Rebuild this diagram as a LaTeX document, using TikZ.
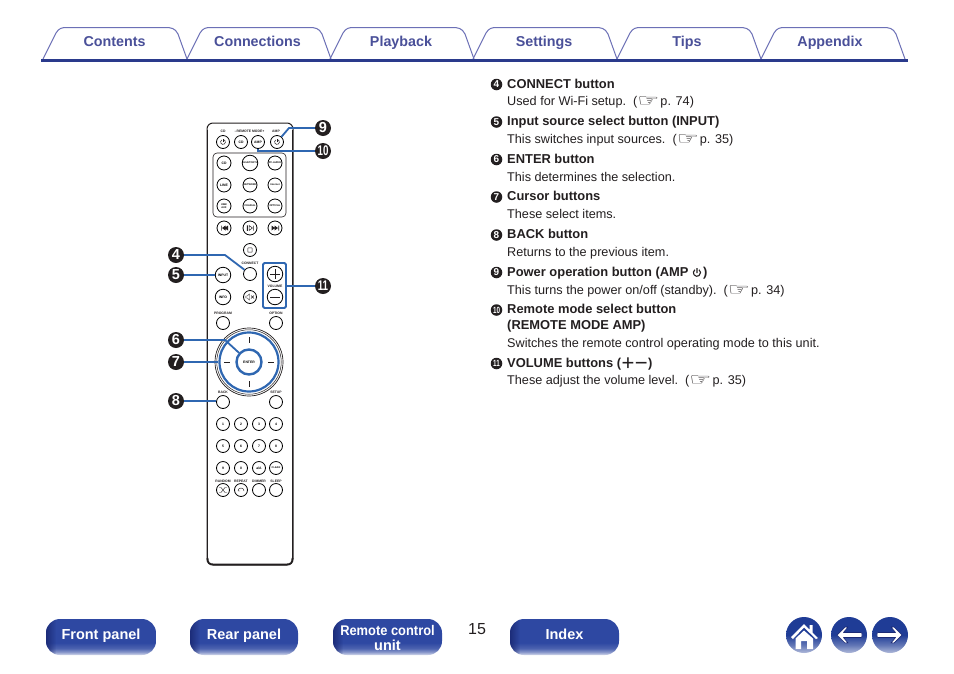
\documentclass[tikz,border=0pt]{standalone}
\usepackage{fontspec}
\usepackage{graphicx}
\setmainfont{Liberation Sans}
\newfontfamily\symf{DejaVu Sans}
\usetikzlibrary{fadings,arrows.meta}
\definecolor{ink}{HTML}{231F20}
\definecolor{navy}{HTML}{2A3A8C}
\definecolor{tabedge}{HTML}{6C70B6}
\definecolor{tabtext}{HTML}{4A5099}
\definecolor{call}{HTML}{2F67B1}
\definecolor{navdark}{HTML}{1B2A75}
\definecolor{navmain}{HTML}{2E48A2}
\definecolor{roundmain}{HTML}{1F3C96}
\pgfdeclareverticalshading{navshade}{100bp}{color(0bp)=(white); color(25bp)=(navmain!20!white); color(29bp)=(navmain!55!white); color(34bp)=(navmain!85!white); color(42bp)=(navmain); color(75bp)=(navmain); color(100bp)=(navmain)}
\pgfdeclareverticalshading{roundshade}{100bp}{color(0bp)=(white); color(25bp)=(roundmain!35!white); color(36bp)=(roundmain!70!white); color(50bp)=(roundmain); color(75bp)=(roundmain); color(100bp)=(roundmain)}
\newcommand\tf{\fontsize{3.4}{3.8}\selectfont\bfseries}
\newcommand\smallf{\fontsize{2.5}{3}\selectfont}
\newcommand\hand{{\symf\fontsize{17}{17}\selectfont\raisebox{-1.4pt}{\scalebox{1.45}[1]{☞}}}\kern-2.5pt}
\tikzset{
  tabline/.style={draw=tabedge,line width=1pt,line join=round},
  tabtxt/.style={text=tabtext,font=\fontsize{14.3}{14}\selectfont\bfseries,anchor=base,inner sep=0pt},
  hd/.style={anchor=base west,inner sep=0pt,text=ink,font=\fontsize{12.9}{14}\selectfont\bfseries},
  bd/.style={anchor=base west,inner sep=0pt,text=ink,font=\fontsize{12.66}{14}\selectfont},
  bul/.style={circle,fill=ink,text=white,inner sep=0pt,minimum size=11.5pt,font=\fontsize{10}{10}\selectfont\bfseries},
  callnum/.style={circle,fill=ink,text=white,inner sep=0pt,minimum size=16pt,font=\fontsize{14.5}{14}\selectfont\bfseries},
  rb/.style={circle,draw=black,line width=.8pt,fill=white,inner sep=0pt,minimum size=13pt,font=\tf},
  rbl/.style={rb,minimum size=15.5pt},
  rlabel/.style={inner sep=0pt,font=\tf,text=ink},
  callout/.style={draw=call,line width=1.8pt},
  navtxt/.style={text=white,font=\fontsize{14.5}{14.5}\selectfont\bfseries,align=center,inner sep=0pt,anchor=base},
}
\newcommand\navbtn[5]{%
  \shade[shading=navshade,rounded corners=14pt] (#1,619) rectangle (#2,655);
  \begin{scope}
    \clip[rounded corners=14pt] (#1,619) rectangle (#2,655);
    \fill[navdark,path fading=east,opacity=.9] (#1,615) rectangle (#1+10,659);
  \end{scope}
  \node[navtxt] (#3) at ({(#1+#2)/2},#4) {#5};
}
\newcommand\tabshape[1]{%
  \draw[tabline,shift={(#1,0)}] (0,59) -- (13,33) .. controls (16,28) and (19,27.5) .. (24,27.5) -- (122,27.5) .. controls (128,27.5) and (132,28) .. (135,34) -- (144,59);
}
\begin{document}
\begin{tikzpicture}[x=1pt,y=-1pt]
\useasboundingbox (0,0) rectangle (954,673);
\fill[white] (0,0) rectangle (954,673);
% tabs
\tabshape{43}\tabshape{187}\tabshape{330}\tabshape{473}\tabshape{617}\tabshape{761}
\draw[navy,line width=2.8pt] (41,60.5) -- (908,60.5);
\node[tabtxt] (t1) at (114.5,46) {Contents};
\node[tabtxt] (t2) at (257.5,46) {Connections};
\node[tabtxt] (t3) at (401,46) {Playback};
\node[tabtxt] (t4) at (544,46) {Settings};
\node[tabtxt] (t5) at (687,46) {Tips};
\node[tabtxt] (t6) at (830,46) {Appendix};
% remote body
\fill[white,draw=ink,line width=1pt,rounded corners=6pt] (207,123) rectangle (293,565);
\draw[ink,line width=1.8pt] (207.5,130) -- (207.5,558) (292.5,130) -- (292.5,558);
\draw[ink,line width=1.8pt] (207.5,558) .. controls (207.5,563) and (209,564.5) .. (214,564.5) -- (286,564.5) .. controls (291,564.5) and (292.5,563) .. (292.5,558);
\draw[ink,line width=.6pt,rounded corners=4pt] (213,153) rectangle (286,217);
% top row
\node[rlabel] (lcd) at (223,131.5) {CD};
\node[rlabel] (lrm) at (249.5,131.5) {–REMOTE MODE+};
\node[rlabel] (lamp) at (276,131.5) {AMP};
\node[rb] (p1) at (223,142) {};
\node[rb] (mcd) at (241,142) {CD};
\node[rb] (amp) at (258,142) {AMP};
\node[rb] (p2) at (277,142) {};
\foreach \n in {p1,p2}{
  \draw[ink,line width=.5pt] ([shift={(-1.2,-2.08)}]\n.center) arc[start angle=120,end angle=420,radius=2.4pt];
  \draw[ink,line width=.5pt] ([yshift=3pt]\n.center) -- (\n.center);
}
% source grid
\node[rb,minimum size=14pt] (g1) at (224,163) {CD};
\node[rb,minimum size=14pt] (g2) at (250,163) {\smallf BLUETOOTH};
\node[rb,minimum size=14pt] (g3) at (275,163) {\smallf PC-AUDIO};
\node[rb,minimum size=14pt] (g4) at (224,185) {LINE};
\node[rb,minimum size=14pt] (g5) at (250,185) {\smallf NETWORK};
\node[rb,minimum size=14pt] (g6) at (275,185) {\smallf Internet};
\node[rb,minimum size=14pt,align=center] (g7) at (224,206) {\smallf USB/\\[-.5pt]\smallf AUX};
\node[rb,minimum size=14pt] (g8) at (250,206) {\smallf COAXIAL};
\node[rb,minimum size=14pt] (g9) at (275,206) {\smallf OPTICAL};
% transport
\node[rb,minimum size=14pt] (prev) at (224,228) {};
\node[rb,minimum size=14pt] (play) at (250,228) {};
\node[rb,minimum size=14pt] (next) at (275,228) {};
\node[rb] (stop) at (250,250) {};
\fill[ink] (221,225.5) rectangle (221.7,230.5) (225.5,225.5) -- (222,228) -- (225.5,230.5) -- cycle (228,225.5) -- (224.5,228) -- (228,230.5) -- cycle;
\draw[ink,line width=.5pt] (247,225.5) rectangle (247.6,230.5) (249,225.5) -- (252.5,228) -- (249,230.5) -- cycle (253.5,225.5) -- (253.5,230.5);
\fill[ink] (279,225.5) rectangle (278.3,230.5) (271.5,225.5) -- (275,228) -- (271.5,230.5) -- cycle (274.5,225.5) -- (278,228) -- (274.5,230.5) -- cycle;
\draw[ink,line width=.5pt,rounded corners=.5pt] (247.8,247.8) rectangle (252.2,252.2);
% middle
\node[rlabel] (lconn) at (250,263.5) {CONNECT};
\node[rb] (connect) at (250,274) {};
\node[rbl] (input) at (223,275) {INPUT};
\node[rbl] (info) at (223,297) {INFO};
\node[rb] (mute) at (250,297) {};
\draw[ink,line width=.4pt] (245.8,296) -- (247.3,296) -- (249.5,294) -- (249.5,300) -- (247.3,298) -- (245.8,298) -- cycle (251,295.5) -- (254,298.5) (254,295.5) -- (251,298.5);
\node[rbl] (volup) at (275,274) {};
\node[rbl] (voldn) at (275,297) {};
\draw[ink,line width=.6pt] (270,274) -- (280,274) (275,269) -- (275,279) (270,297) -- (280,297);
\node[rlabel] (lvol) at (275,286) {VOLUME};
\node[draw=call,line width=1.8pt,rounded corners=1.5pt,inner sep=0pt,minimum width=23pt,minimum height=45pt] (volbox) at (274.5,285.5) {};
\node[rlabel] (lprog) at (223,313.5) {PROGRAM};
\node[rlabel] (lopt) at (276,313.5) {OPTION};
\node[rb] (program) at (223,323) {};
\node[rb] (option) at (276,323) {};
% dial
\node[circle,draw=ink,line width=.7pt,inner sep=0pt,minimum size=68pt] (dialo) at (249,362) {};
\node[circle,draw=ink,line width=.5pt,inner sep=0pt,minimum size=64.5pt] (dialm) at (249,362) {};
\node[circle,draw=call,line width=2.2pt,inner sep=0pt,minimum size=59pt] (dialring) at (249,362) {};
\draw[ink,line width=.5pt] (249,337) -- (249,343) (249,381) -- (249,387) (224,362) -- (230,362) (268,362) -- (274,362);
\node[circle,draw=call,line width=2.4pt,fill=white,inner sep=0pt,minimum size=25pt,font=\tf] (enter) at (249,362) {ENTER};
\node[rlabel] (lback) at (223,392.5) {BACK};
\node[rlabel] (lsetup) at (276,392.5) {SETUP};
\node[rb] (back) at (223,402) {};
\node[rb] (setup) at (276,402) {};
% numbers
\node[rb] (n1) at (223,424) {1};
\node[rb] (n2) at (241,424) {2};
\node[rb] (n3) at (259,424) {3};
\node[rb] (n4) at (276,424) {4};
\node[rb] (n5) at (223,446) {5};
\node[rb] (n6) at (241,446) {6};
\node[rb] (n7) at (259,446) {7};
\node[rb] (n8) at (276,446) {8};
\node[rb] (n9) at (223,468) {9};
\node[rb] (n0) at (241,468) {0};
\node[rb] (naA) at (259,468) {a/A};
\node[rb] (clear) at (276,468) {\smallf CLEAR};
\node[rlabel] (lrand) at (223,481) {RANDOM};
\node[rlabel] (lrep) at (241,481) {REPEAT};
\node[rlabel] (ldim) at (259,481) {DIMMER};
\node[rlabel] (lsleep) at (276,481) {SLEEP};
\node[rb] (random) at (223,490) {};
\node[rb] (repeatb) at (241,490) {};
\node[rb] (dimmer) at (259,490) {};
\node[rb] (sleep) at (276,490) {};
\draw[ink,line width=.45pt] (219,487.5) -- (221,487.5) -- (225,492.5) -- (227,492.5) (219,492.5) -- (221,492.5) -- (225,487.5) -- (227,487.5);
\draw[ink,line width=.45pt] (238,491) arc[start angle=180,end angle=0,radius=3pt] (238,491) -- (240,491);
% callouts
\node[callnum] (c9) at (323,128) {9};
\node[callnum] (c10) at (323,151) {\fontsize{14}{14}\selectfont\scalebox{.7}[1]{10}};
\node[callnum] (c4) at (176,255) {4};
\node[callnum] (c5) at (176,275) {5};
\node[callnum] (c6) at (176,340) {6};
\node[callnum] (c7) at (176,362) {7};
\node[callnum] (c8) at (176,401) {8};
\node[callnum] (c11) at (323,286) {\fontsize{14}{14}\selectfont\scalebox{.7}[1]{11}};
\coordinate (b9) at (289,128);
\coordinate (b10) at (258,151);
\coordinate (b4) at (225,255);
\coordinate (b6) at (225,340);
\coordinate (e8) at (216,401);
\draw[callout] (c9) -- (b9) -- (p2);
\draw[callout] (c10) -- (b10) -- (amp);
\draw[callout] (c4) -- (b4) -- (connect);
\draw[callout] (c5) -- (input);
\draw[callout] (c6) -- (b6) -- (enter);
\draw[callout] (c7) -- (dialring.west);
\draw[callout] (c8) -- (e8);
\draw[callout] (c11) -- (c11 -| volbox.east);
% right column
\node[bul] (k4) at (496.5,84.5) {4};
\node[hd] (h4) at (507,88) {CONNECT button};
\node[bd] (d4) at (507,105) {Used for Wi-Fi setup.~~(\hand\ p. 74)};
\node[bul] (k5) at (496.5,122) {5};
\node[hd] (h5) at (507,125) {Input source select button (INPUT)};
\node[bd] (d5) at (507,143) {This switches input sources.~~(\hand\ p. 35)};
\node[bul] (k6) at (496.5,159.5) {6};
\node[hd] (h6) at (507,163) {ENTER button};
\node[bd] (d6) at (507,181) {This determines the selection.};
\node[bul] (k7) at (496.5,197) {7};
\node[hd] (h7) at (507,200) {Cursor buttons};
\node[bd] (d7) at (507,218) {These select items.};
\node[bul] (k8) at (496.5,235) {8};
\node[hd] (h8) at (507,238) {BACK button};
\node[bd] (d8) at (507,256) {Returns to the previous item.};
\node[bul] (k9) at (496.5,272.5) {9};
\node[hd] (h9) at (507,276) {Power operation button (AMP};
\draw[ink,line width=1.1pt] (694.9,269.75) arc[start angle=125,end angle=415,radius=3.6pt] (697,268) -- (697,273);
\node[hd] (h9b) at (703,276) {)};
\node[bd] (d9) at (507,294) {This turns the power on/off (standby).~~(\hand\ p. 34)};
\node[bul] (k10) at (496.5,310) {\fontsize{9}{9}\selectfont\scalebox{.7}[1]{10}};
\node[hd] (h10) at (507,313) {Remote mode select button};
\node[hd] (h10b) at (507,329) {(REMOTE MODE AMP)};
\node[bd] (d10) at (507,347) {Switches the remote control operating mode to this unit.};
\node[bul] (k11) at (496.5,363.5) {\fontsize{9}{9}\selectfont\scalebox{.7}[1]{11}};
\node[hd] (h11) at (507,367) {VOLUME buttons (\makebox[27pt]{\fontsize{22}{14}\selectfont\mdseries\raisebox{-3pt}{+\kern.5pt−}})};
\node[bd] (d11) at (507,384) {These adjust the volume level.~~(\hand\ p. 35)};
% bottom
\navbtn{46}{156}{nfront}{639}{Front panel}
\navbtn{190}{298}{nrear}{639}{Rear panel}
\navbtn{333}{442}{nremote}{650}{\fontsize{14}{15}\selectfont\scalebox{.92}[1]{Remote control}\\unit}
\navbtn{510}{619}{nindex}{639}{Index}
\node[inner sep=0pt,text=ink,font=\fontsize{16}{16}\selectfont] (pg) at (477,629.5) {15};
\node[circle,shading=roundshade,inner sep=0pt,minimum size=36pt] (home) at (804,635) {};
\node[circle,shading=roundshade,inner sep=0pt,minimum size=36pt] (prevp) at (849,635) {};
\node[circle,shading=roundshade,inner sep=0pt,minimum size=36pt] (nextp) at (890,635) {};
\fill[white] (791,637) -- (804,624) -- (809.5,629.5) -- (809.5,625) -- (812.5,625) -- (812.5,632.5) -- (818,638) -- (816,639) -- (804,627.5) -- (793,639) -- cycle;
\fill[white] (795.5,638.5) -- (804,630.5) -- (813,638.5) -- (813,649) -- (807,649) -- (807,641) -- (801,641) -- (801,649) -- (795.5,649) -- cycle;
\fill[white,draw=navdark,line width=.7pt,line join=round] (837,635) -- (845,627) -- (848,627) -- (843.5,632.5) -- (861,632.5) .. controls (862.5,632.5) and (862.5,637.5) .. (861,637.5) -- (843.5,637.5) -- (848,643) -- (845,643) -- cycle;
\fill[white,draw=navdark,line width=.7pt,line join=round] (902,635) -- (894,627) -- (891,627) -- (895.5,632.5) -- (878,632.5) .. controls (876.5,632.5) and (876.5,637.5) .. (878,637.5) -- (895.5,637.5) -- (891,643) -- (894,643) -- cycle;
\end{tikzpicture}
\end{document}
